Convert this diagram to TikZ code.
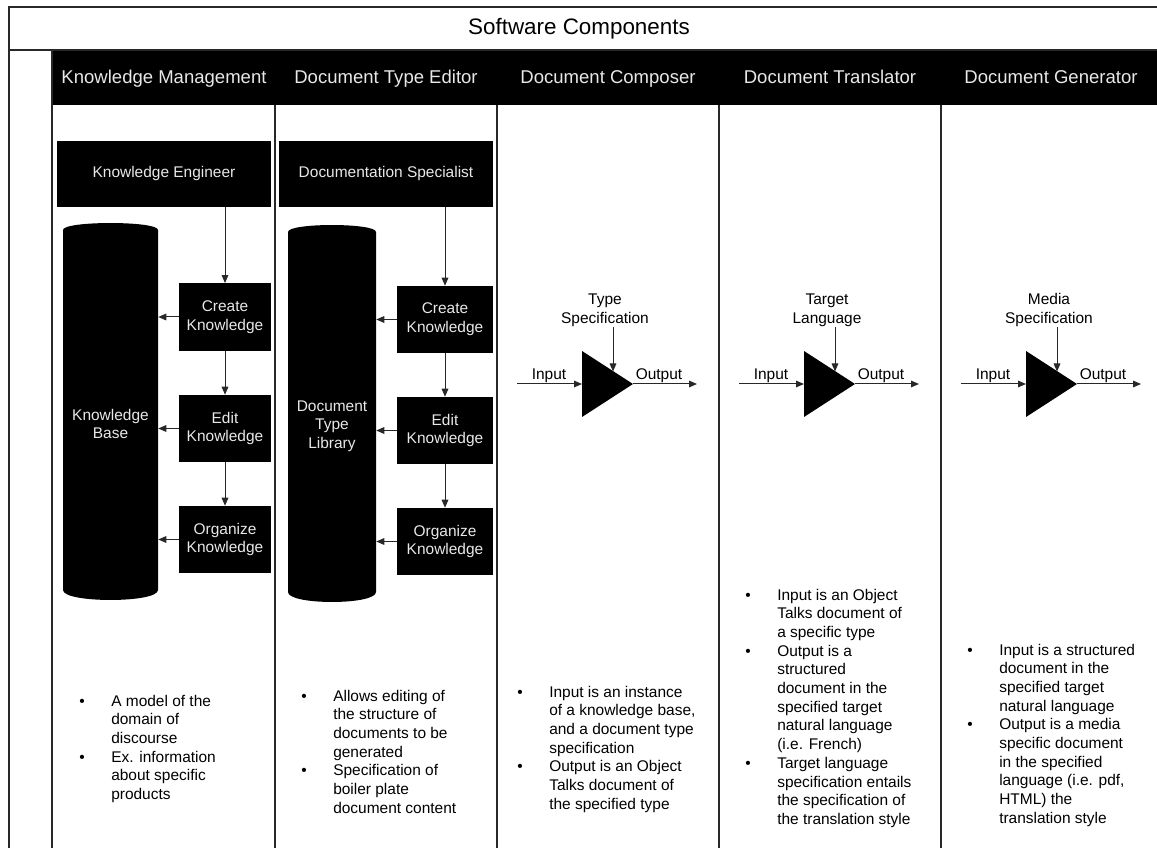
\documentclass[tikz,border=0pt]{standalone}
\usepackage{fontspec}
\setmainfont{Liberation Sans}
\usetikzlibrary{arrows.meta}
\newcommand{\bodyfs}{\fontsize{11.6}{14.03}\selectfont}
\newcommand{\bu}{\makebox[24pt][l]{\textbullet}}
\newcommand{\nb}{\hspace*{24pt}}
\definecolor{light}{RGB}{232,232,232}
\definecolor{linec}{RGB}{40,40,40}
\begin{document}
\begin{tikzpicture}[x=0.75pt,y=-0.75pt,
  frame/.style={draw=linec, line width=1pt},
  blk/.style={fill=black, text=light, font=\bodyfs, align=center, inner sep=0pt},
  arr/.style={draw=linec, line width=0.75pt, -{Triangle[length=6pt,width=5pt]}},
  lbl/.style={font=\bodyfs, text=black, inner sep=0pt, align=center},
  hdr/.style={font=\fontsize{13.9}{16}\selectfont, text=light, inner sep=0pt, anchor=base},
  bul/.style={font=\bodyfs, inner sep=0pt, anchor=base west},
  cyl/.style={fill=black}]
\useasboundingbox (0,0) rectangle (1157,848);
% frame
\fill[black] (52,50) rectangle (1157,105);
\draw[frame] (9,848) -- (9,7) -- (1157,7);
\draw[frame] (9,50) -- (1157,50);
\draw[frame] (52,50) -- (52,848);
\foreach \x in {275,497,719,941} \draw[frame] (\x,105) -- (\x,848);
% title and headers
\node[font=\fontsize{16.8}{19}\selectfont, inner sep=0pt, anchor=base] (title) at (579,35) {Software Components};
\node[hdr] (h1) at (164,84) {Knowledge Management};
\node[hdr] (h2) at (386,84) {Document Type Editor};
\node[hdr] (h3) at (608,84) {Document Composer};
\node[hdr] (h4) at (830,84) {Document Translator};
\node[hdr] (h5) at (1051,84) {Document Generator};

% ---------- column 1
\node[blk, minimum width=160.5pt, minimum height=49.5pt] (ke) at (164,174) {Knowledge Engineer};
\fill[cyl] (63,230) .. controls (63,220.7) and (158,220.7) .. (158,230) -- (158,590) .. controls (158,603.3) and (63,603.3) .. (63,590) -- cycle;
\node[lbl, text=light, minimum width=71.25pt] (kb) at (110.5,424) {Knowledge\\Base};
\node[blk, minimum width=69pt, minimum height=50.5pt] (ck1) at (225,317) {Create\\Knowledge};
\node[blk, minimum width=69pt, minimum height=50.25pt] (ek1) at (225,428.5) {Edit\\Knowledge};
\node[blk, minimum width=69pt, minimum height=50.25pt] (ok1) at (225,539.5) {Organize\\Knowledge};
\draw[arr] (ke.south -| ck1.north) -- (ck1.north);
\draw[arr] (ck1.south) -- (ek1.north);
\draw[arr] (ek1.south) -- (ok1.north);
\draw[arr] (ck1.west) -- (ck1.west -| kb.east);
\draw[arr] (ek1.west) -- (ek1.west -| kb.east);
\draw[arr] (ok1.west) -- (ok1.west -| kb.east);

% ---------- column 2
\node[blk, minimum width=160.5pt, minimum height=49.5pt] (ds) at (386,174) {Documentation Specialist};
\fill[cyl] (288,232) .. controls (288,222.7) and (376,222.7) .. (376,232) -- (376,592) .. controls (376,605.3) and (288,605.3) .. (288,592) -- cycle;
\node[lbl, text=light, minimum width=66pt] (dtl) at (332,426) {Document\\Type\\Library};
\node[blk, minimum width=72pt, minimum height=50.25pt] (ck2) at (445,319.5) {Create\\Knowledge};
\node[blk, minimum width=72pt, minimum height=50.25pt] (ek2) at (445,430.5) {Edit\\Knowledge};
\node[blk, minimum width=72pt, minimum height=50.25pt] (ok2) at (445,541.5) {Organize\\Knowledge};
\draw[arr] (ds.south -| ck2.north) -- (ck2.north);
\draw[arr] (ck2.south) -- (ek2.north);
\draw[arr] (ek2.south) -- (ok2.north);
\draw[arr] (ck2.west) -- (ck2.west -| dtl.east);
\draw[arr] (ek2.west) -- (ek2.west -| dtl.east);
\draw[arr] (ok2.west) -- (ok2.west -| dtl.east);

% ---------- columns 3-5: processors
\foreach \i/\dx/\la/\lb in {3/0/Type/Specification, 4/222/Target/Language, 5/444/Media/Specification} {
  \fill[black] (582+\dx,351) -- (633+\dx,384) -- (582+\dx,417) -- cycle;
  \coordinate (w\i) at (582+\dx,384);
  \coordinate (e\i) at (633+\dx,384);
  \coordinate (in\i) at (517+\dx,384);
  \coordinate (out\i) at (697+\dx,384);
  \coordinate (s\i) at (613+\dx,327);
  \coordinate (t\i) at (613+\dx,371.5);
  \node[lbl, anchor=south] (spec\i) at (605+\dx,326.5) {\la\\\lb};
  \node[lbl, anchor=base] (inl\i) at (549+\dx,380) {Input};
  \node[lbl, anchor=base] (outl\i) at (659+\dx,380) {Output};
  \draw[arr] (in\i) -- (w\i);
  \draw[arr] (e\i) -- (out\i);
  \draw[arr] (s\i) -- (t\i);
}

% ---------- bullet texts
\node[bul] (txt1) at (79,706) {\begin{tabular}[t]{@{}l@{}}
\bu A model of the\\ \nb domain of\\ \nb discourse\\
\bu Ex. information\\ \nb about specific\\ \nb products\end{tabular}};
\node[bul] (txt2) at (301,701) {\begin{tabular}[t]{@{}l@{}}
\bu Allows editing of\\ \nb the structure of\\ \nb documents to be\\ \nb generated\\
\bu Specification of\\ \nb boiler plate\\ \nb document content\end{tabular}};
\node[bul] (txt3) at (517,697) {\begin{tabular}[t]{@{}l@{}}
\bu Input is an instance\\ \nb of a knowledge base,\\ \nb and a document type\\ \nb specification\\
\bu Output is an Object\\ \nb Talks document of\\ \nb the specified type\end{tabular}};
\node[bul] (txt4) at (745,600) {\begin{tabular}[t]{@{}l@{}}
\bu Input is an Object\\ \nb Talks document of\\ \nb a specific type\\
\bu Output is a\\ \nb structured\\ \nb document in the\\ \nb specified target\\ \nb natural language\\ \nb (i.e. French)\\
\bu Target language\\ \nb specification entails\\ \nb the specification of\\ \nb the translation style\end{tabular}};
\node[bul] (txt5) at (967,655) {\begin{tabular}[t]{@{}l@{}}
\bu Input is a structured\\ \nb document in the\\ \nb specified target\\ \nb natural language\\
\bu Output is a media\\ \nb specific document\\ \nb in the specified\\ \nb language (i.e. pdf,\\ \nb HTML) the\\ \nb translation style\end{tabular}};
\end{tikzpicture}
\end{document}
